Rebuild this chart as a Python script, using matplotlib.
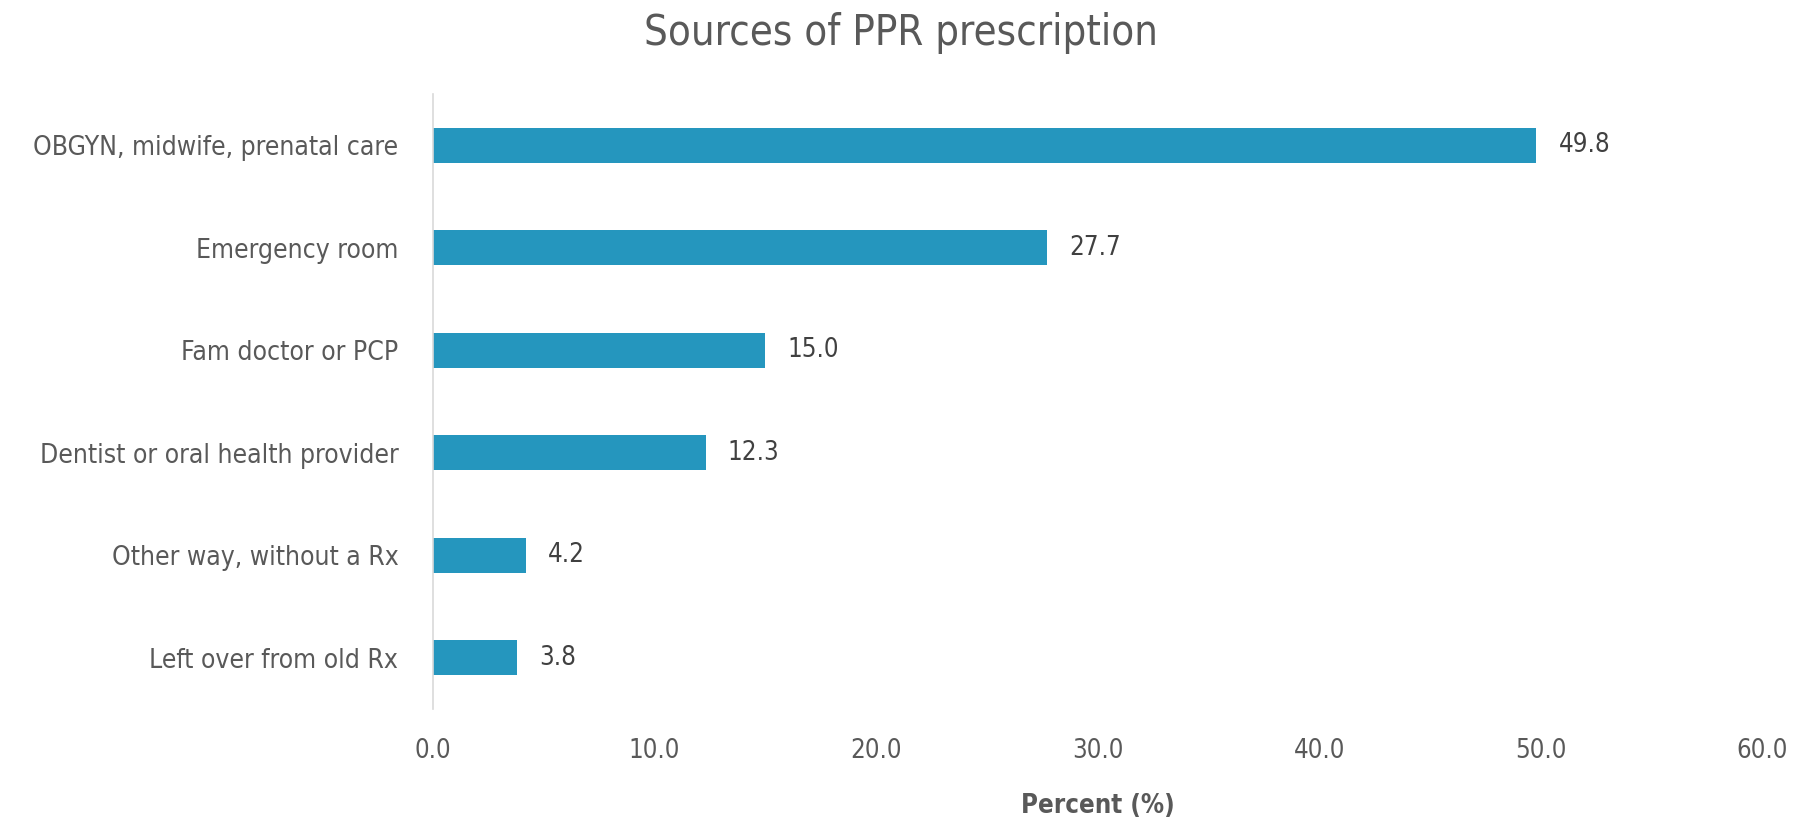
import matplotlib
matplotlib.use("Agg")
import matplotlib.pyplot as plt

categories = [
    "OBGYN, midwife, prenatal care",
    "Emergency room",
    "Fam doctor or PCP",
    "Dentist or oral health provider",
    "Other way, without a Rx",
    "Left over from old Rx",
]
values = [49.8, 27.7, 15.0, 12.3, 4.2, 3.8]
xticks = [0, 10, 20, 30, 40, 50, 60]

# narrow look like the original chart
plt.rcParams["font.family"] = ["DejaVu Sans"]
plt.rcParams["font.stretch"] = "condensed"

text_color = "#595959"
bar_color = "#2596be"

fig = plt.figure(figsize=(18.02, 8.21), dpi=100)
ax = fig.add_axes([0.2403, 0.1364, 0.978 - 0.2403, 0.8855 - 0.1364])

y = list(range(len(categories)))
ax.barh(y, values, height=0.34, color=bar_color)
for yi, v in zip(y, values):
    ax.text(v + 1.0, yi, f"{v:.1f}", va="center", ha="left", fontsize=18.5, color="#404040")

ax.set_xlim(0, 60)
ax.set_ylim(5.5, -0.5)
ax.set_yticks(y)
ax.set_yticklabels(categories, fontsize=19, color=text_color)
ax.set_xticks(xticks)
ax.set_xticklabels([f"{t:.1f}" for t in xticks], fontsize=18.5, color=text_color)
ax.tick_params(axis="both", length=0)
ax.tick_params(axis="y", pad=25)
ax.tick_params(axis="x", pad=21)

for s in ["top", "right", "bottom"]:
    ax.spines[s].set_visible(False)
ax.spines["left"].set_color("#d9d9d9")
ax.spines["left"].set_linewidth(1.2)

ax.set_xlabel("Percent (%)", fontsize=18.5, fontweight="bold", color=text_color, labelpad=21)
fig.suptitle("Sources of PPR prescription", fontsize=30, color=text_color, y=0.985, x=0.5)

fig.savefig("out.png", dpi=100)
